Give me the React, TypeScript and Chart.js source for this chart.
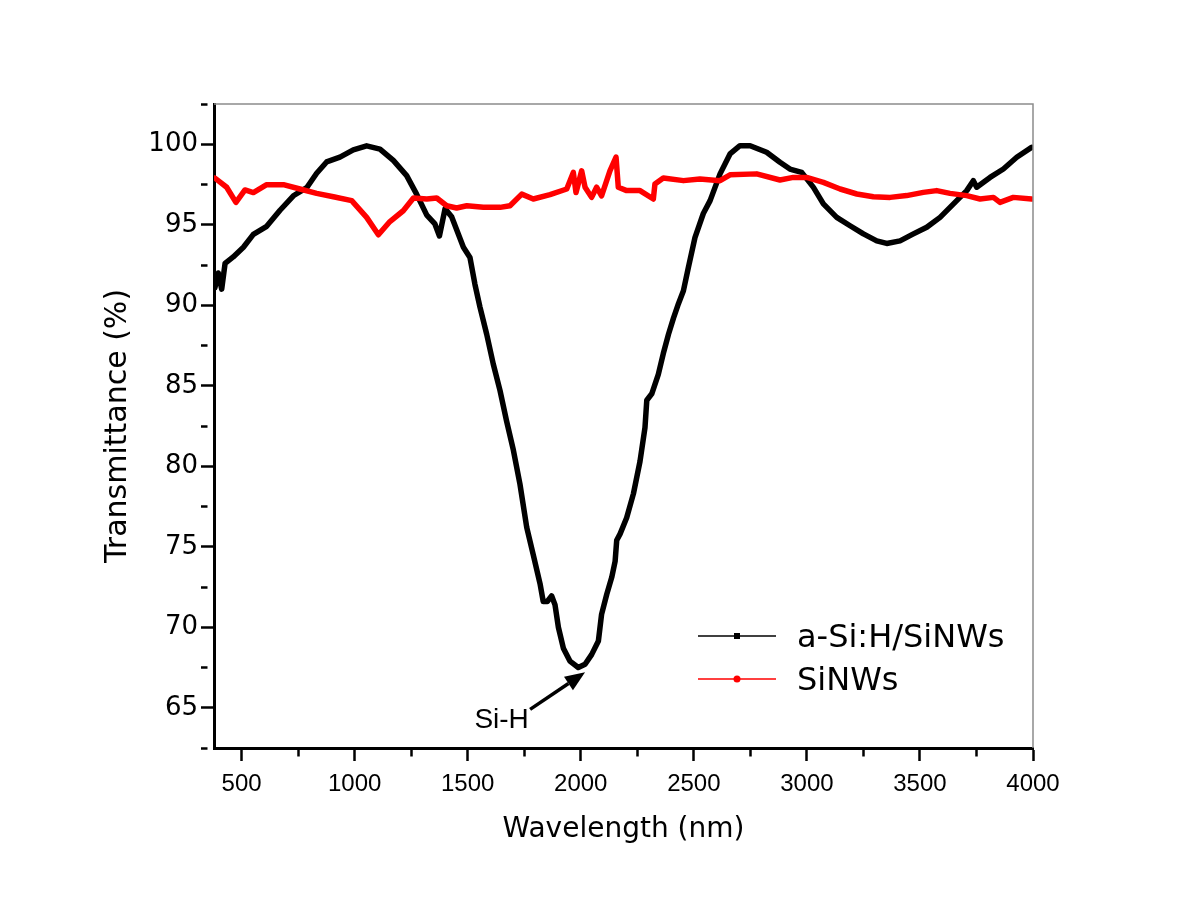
import React, { useEffect, useRef } from 'react';
import { Chart, registerables } from 'chart.js';

Chart.register(...registerables);

// ---- Data ----
const seriesNames = ['a-Si:H/SiNWs', 'SiNWs'];

const blackWavelengths = [
  382, 397, 412, 427, 463, 508, 552, 611, 670, 729, 788, 832, 876, 935, 994, 1053, 1112, 1171, 1230, 1274,
  1319, 1355, 1375, 1400, 1429, 1481, 1510, 1532, 1554, 1584, 1613, 1643, 1672, 1702, 1731, 1761, 1790, 1820,
  1834, 1852, 1871, 1886, 1901, 1923, 1952, 1989, 2019, 2048, 2078, 2092, 2115, 2137, 2152, 2159, 2174, 2203,
  2233, 2262, 2284, 2292, 2314, 2343, 2365, 2388, 2410, 2432, 2454, 2476, 2505, 2542, 2572, 2616, 2660, 2704,
  2749, 2822, 2881, 2925, 2977, 3029, 3073, 3132, 3191, 3250, 3309, 3353, 3412, 3471, 3530, 3589, 3633, 3677,
  3707, 3736, 3751, 3810, 3869, 3928, 3994,
];
const blackTransmittance = [
  91.1, 92.0, 91.0, 92.6, 93.0, 93.6, 94.4, 94.9, 95.9, 96.8, 97.3, 98.2, 98.9, 99.2, 99.65, 99.9, 99.7, 99.0, 98.05, 96.9,
  95.6, 95.05, 94.3, 96.0, 95.5, 93.6, 92.97, 91.3, 89.9, 88.2, 86.35, 84.7, 82.8, 81.0, 78.9, 76.2, 74.5, 72.7,
  71.6, 71.6, 71.95, 71.4, 70.0, 68.7, 67.9, 67.5, 67.7, 68.3, 69.15, 70.8, 72.05, 73.1, 74.1, 75.4, 75.8, 76.8,
  78.3, 80.3, 82.4, 84.1, 84.5, 85.7, 87.0, 88.2, 89.2, 90.1, 90.9, 92.35, 94.2, 95.7, 96.5, 98.16, 99.4, 99.91,
  99.91, 99.5, 98.88, 98.46, 98.25, 97.32, 96.3, 95.46, 94.94, 94.43, 94.0, 93.84, 94.0, 94.43, 94.84, 95.46, 96.08, 96.7,
  97.12, 97.74, 97.33, 97.94, 98.46, 99.19, 99.81,
];

const redWavelengths = [
  382, 434, 475, 515, 552, 611, 685, 758, 832, 906, 987, 1053, 1105, 1156, 1215, 1260, 1319, 1363, 1407, 1451,
  1496, 1569, 1643, 1687, 1739, 1790, 1864, 1938, 1967, 1979, 2004, 2019, 2048, 2070, 2092, 2129, 2156, 2166,
  2203, 2262, 2321, 2328, 2365, 2454, 2527, 2616, 2660, 2778, 2881, 2940, 2999, 3073, 3147, 3221, 3294, 3368,
  3441, 3515, 3574, 3633, 3707, 3766, 3825, 3854, 3913, 3994,
];
const redTransmittance = [
  97.9, 97.33, 96.39, 97.16, 97.0, 97.49, 97.49, 97.22, 96.95, 96.74, 96.5, 95.46, 94.38, 95.2, 95.87, 96.66, 96.6, 96.66, 96.18, 96.04,
  96.18, 96.08, 96.08, 96.18, 96.9, 96.6, 96.87, 97.22, 98.25, 97.0, 98.35, 97.33, 96.7, 97.33, 96.8, 98.35, 99.2, 97.33,
  97.12, 97.12, 96.6, 97.53, 97.9, 97.74, 97.84, 97.74, 98.1, 98.16, 97.78, 97.94, 97.94, 97.63, 97.22, 96.91, 96.74, 96.7,
  96.81, 97.01, 97.12, 96.95, 96.81, 96.6, 96.7, 96.39, 96.7, 96.6,
];

const xLabelValues = [500, 1000, 1500, 2000, 2500, 3000, 3500, 4000];
const yLabelValues = [65, 70, 75, 80, 85, 90, 95, 100];
const xAxisTitle = 'Wavelength (nm)';
const yAxisTitle = 'Transmittance (%)';

const annotationText = 'Si-H';
const annotationTextAt = [1650, 64.24];
const arrowTail = [1776, 64.9];
const arrowTip = [2019, 67.2];

const X_MIN = 378;
const X_MAX = 4000;
const Y_MIN = 62.5;
const Y_MAX = 102.5;

const xTickFont = { family: "'Liberation Sans', Arial, sans-serif", size: 24 };
const yTickFont = { family: "'DejaVu Sans', sans-serif", size: 26 };
const xTitleFont = { family: "'DejaVu Sans', sans-serif", size: 28 };
const yTitleFont = { family: "'DejaVu Sans', sans-serif", size: 30 };

const decorPlugin = {
  id: 'decor',
  afterDatasetsDraw(chart: any) {
    const { ctx, chartArea: a, scales } = chart;
    const x = scales.x;
    const y = scales.y;
    ctx.save();
    // thin grey frame on top/right
    ctx.strokeStyle = '#8c8c8c';
    ctx.lineWidth = 1.5;
    ctx.beginPath();
    ctx.moveTo(a.left, a.top);
    ctx.lineTo(a.right, a.top);
    ctx.lineTo(a.right, a.bottom);
    ctx.stroke();

    // arrow annotation
    const x1 = x.getPixelForValue(arrowTail[0]);
    const y1 = y.getPixelForValue(arrowTail[1]);
    const x2 = x.getPixelForValue(arrowTip[0]);
    const y2 = y.getPixelForValue(arrowTip[1]);
    const ang = Math.atan2(y2 - y1, x2 - x1);
    const headLen = 20;
    const headHalf = 8;
    const bx = x2 - headLen * Math.cos(ang);
    const by = y2 - headLen * Math.sin(ang);
    ctx.strokeStyle = '#000';
    ctx.fillStyle = '#000';
    ctx.lineWidth = 3.5;
    ctx.beginPath();
    ctx.moveTo(x1, y1);
    ctx.lineTo(bx, by);
    ctx.stroke();
    ctx.beginPath();
    ctx.moveTo(x2, y2);
    ctx.lineTo(bx + headHalf * Math.sin(ang), by - headHalf * Math.cos(ang));
    ctx.lineTo(bx - headHalf * Math.sin(ang), by + headHalf * Math.cos(ang));
    ctx.closePath();
    ctx.fill();

    ctx.font = "28px 'Liberation Sans', Arial, sans-serif";
    ctx.textAlign = 'center';
    ctx.textBaseline = 'middle';
    ctx.fillText(annotationText, x.getPixelForValue(annotationTextAt[0]), y.getPixelForValue(annotationTextAt[1]));

    // legend
    const rows = [636, 679];
    const baselines = [647, 690];
    chart.data.datasets.forEach((ds: any, i: number) => {
      const ly = rows[i];
      ctx.strokeStyle = ds.borderColor;
      ctx.fillStyle = ds.borderColor;
      ctx.lineWidth = 1.5;
      ctx.beginPath();
      ctx.moveTo(698, ly);
      ctx.lineTo(776, ly);
      ctx.stroke();
      if (i === 0) {
        ctx.fillRect(734, ly - 3, 6, 6);
      } else {
        ctx.beginPath();
        ctx.arc(737, ly, 3.5, 0, Math.PI * 2);
        ctx.fill();
      }
      ctx.fillStyle = '#000';
      ctx.font = "32px 'DejaVu Sans', sans-serif";
      ctx.textAlign = 'left';
      ctx.textBaseline = 'alphabetic';
      ctx.fillText(ds.label, 797, baselines[i]);
    });
    ctx.restore();
  },
};

export default function App() {
  const canvasRef = useRef<HTMLCanvasElement | null>(null);

  useEffect(() => {
    const canvas = canvasRef.current;
    if (!canvas) return;
    const blackData = blackWavelengths.map((w, i) => ({ x: w, y: blackTransmittance[i] }));
    const redData = redWavelengths.map((w, i) => ({ x: w, y: redTransmittance[i] }));

    const minorDash = (labels: number[]) => (c: any) =>
      c.tick && !labels.some((v) => Math.abs(v - c.tick.value) < 1e-6) ? [6.5, 100] : [];

    const chart = new Chart(canvas, {
      type: 'line',
      data: {
        datasets: [
          {
            label: seriesNames[0],
            data: blackData,
            borderColor: '#000000',
            backgroundColor: '#000000',
            borderWidth: 5.5,
            pointRadius: 0,
            tension: 0,
            order: 2,
            borderJoinStyle: 'round',
            borderCapStyle: 'round',
          },
          {
            label: seriesNames[1],
            data: redData,
            borderColor: '#ff0000',
            backgroundColor: '#ff0000',
            borderWidth: 5.5,
            pointRadius: 0,
            tension: 0,
            order: 1,
            borderJoinStyle: 'round',
            borderCapStyle: 'round',
          },
        ],
      },
      options: {
        animation: false,
        responsive: false,
        maintainAspectRatio: false,
        layout: { padding: { top: 104, right: 167, bottom: 0, left: 0 } },
        plugins: {
          legend: { display: false },
          tooltip: { enabled: false },
          title: { display: false },
        },
        scales: {
          x: {
            type: 'linear',
            position: 'bottom',
            min: X_MIN,
            max: X_MAX,
            afterFit: (s: any) => {
              s.height = 150;
            },
            border: { display: true, color: '#000', width: 3 },
            grid: {
              display: true,
              drawOnChartArea: false,
              drawTicks: true,
              tickLength: 13,
              tickWidth: 2.5,
              tickColor: '#000',
              tickBorderDash: minorDash(xLabelValues),
            },
            ticks: {
              stepSize: 250,
              includeBounds: false,
              autoSkip: false,
              maxRotation: 0,
              padding: 9,
              color: '#000',
              font: xTickFont,
              callback: (v: any) => (xLabelValues.includes(Number(v)) ? String(v) : ''),
            },
            title: {
              display: true,
              text: xAxisTitle,
              color: '#000',
              font: xTitleFont,
              padding: { top: 0, bottom: 51 },
            },
          },
          y: {
            type: 'linear',
            position: 'left',
            min: Y_MIN,
            max: Y_MAX,
            afterFit: (s: any) => {
              s.width = 214;
            },
            border: { display: true, color: '#000', width: 3 },
            grid: {
              display: true,
              drawOnChartArea: false,
              drawTicks: true,
              tickLength: 13,
              tickWidth: 2.5,
              tickColor: '#000',
              tickBorderDash: minorDash(yLabelValues),
            },
            ticks: {
              stepSize: 2.5,
              autoSkip: false,
              padding: 3,
              color: '#000',
              font: yTickFont,
              callback: (v: any) =>
                yLabelValues.some((l) => Math.abs(l - Number(v)) < 1e-6) ? String(Math.round(Number(v))) : '',
            },
            title: {
              display: true,
              text: yAxisTitle,
              color: '#000',
              font: yTitleFont,
              padding: { top: 100, bottom: 0 },
            },
          },
        },
      },
      plugins: [decorPlugin],
    } as any);

    return () => {
      chart.destroy();
    };
  }, []);

  return (
    <div style={{ position: 'absolute', left: 0, top: 0, width: 1200, height: 898, background: '#fff' }}>
      <canvas ref={canvasRef} width={1200} height={898} style={{ width: 1200, height: 898, display: 'block' }} />
    </div>
  );
}
